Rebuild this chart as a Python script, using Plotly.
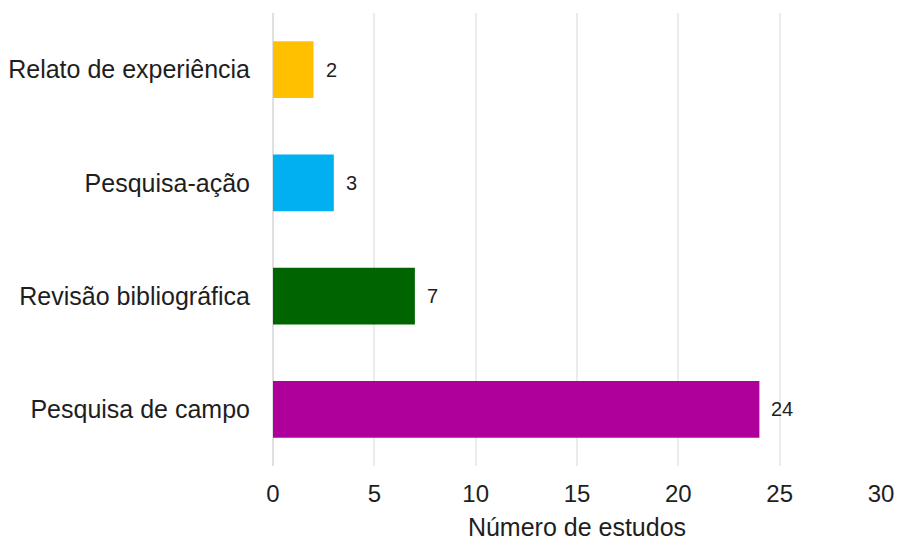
import plotly.graph_objects as go

categories = ["Pesquisa de campo", "Revisão bibliográfica", "Pesquisa-ação", "Relato de experiência"]
values = [24, 7, 3, 2]
colors = ["#B0009B", "#006400", "#00B0F0", "#FFC000"]
x_ticks = [0, 5, 10, 15, 20, 25, 30]

font = "Liberation Sans, Arial, sans-serif"

fig = go.Figure()
fig.add_trace(go.Bar(
    y=categories, x=values, orientation="h",
    marker=dict(color=colors, line=dict(width=0)),
    width=0.5, showlegend=False, hoverinfo="skip",
))
for c, v in zip(categories, values):
    fig.add_annotation(x=v, y=c, text=str(v), showarrow=False,
                       xanchor="left", xshift=10,
                       font=dict(family=font, size=20, color="#1E1E1E"))

fig.update_layout(
    width=898, height=541,
    margin=dict(l=273, r=17, t=13, b=75, autoexpand=False),
    plot_bgcolor="white", paper_bgcolor="white",
    font=dict(family=font, color="#1E1E1E"),
)
fig.update_xaxes(
    range=[0, 30], tickvals=x_ticks, showgrid=True, gridcolor="#EBEBEB", gridwidth=1.5,
    zeroline=True, zerolinecolor="#E0E0E0", zerolinewidth=2,
    showline=False, ticks="", ticklabelstandoff=11, automargin=False,
    tickfont=dict(size=24, color="#1E1E1E"),
    title=dict(text="Número de estudos", font=dict(size=25, color="#1E1E1E"), standoff=12),
)
fig.update_yaxes(
    range=[-0.5, 3.5], categoryorder="array", categoryarray=categories,
    showgrid=False, zeroline=False, showline=False, ticks="",
    ticklabelstandoff=22, automargin=False,
    tickfont=dict(size=25, color="#1E1E1E"),
)
fig.write_html("out.html", config={"displayModeBar": False},
               post_script="document.body.style.margin='0';document.body.style.overflow='hidden';")
